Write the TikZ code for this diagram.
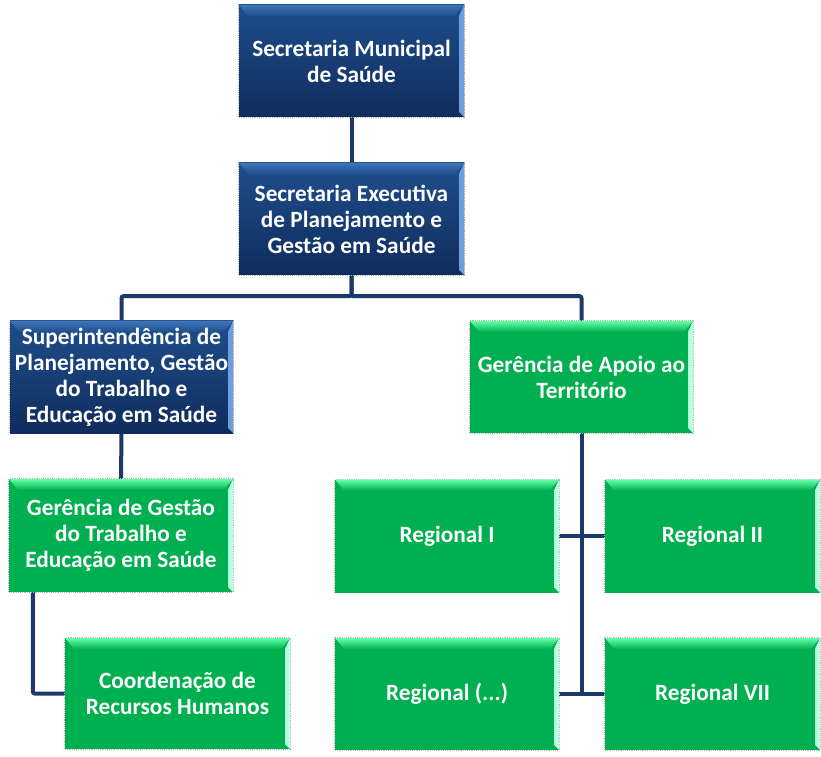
\documentclass[tikz,border=0pt]{standalone}
\usepackage{fontspec}
\setmainfont{Carlito}
\usetikzlibrary{backgrounds}
\definecolor{navy}{HTML}{1B3A6B}
\definecolor{bluetop}{HTML}{1F4E8C}
\definecolor{bluebot}{HTML}{0F2C5C}
\definecolor{bluebev}{HTML}{3E74B8}
\definecolor{blueedge}{HTML}{6E9FDC}
\definecolor{boxgreen}{HTML}{00B050}
\definecolor{greenbev}{HTML}{66FFA6}
\definecolor{greenedge}{HTML}{B8FFE0}
\newcommand\bevelfx[3]{%
  \path (path picture bounding box.north west) coordinate (bnw)
        (path picture bounding box.south east) coordinate (bse);
  \shade[top color=#1, bottom color=#3] (bnw) -- (bnw -| bse) -- ([shift={(-9pt,-11pt)}]bnw -| bse) -- ([shift={(9pt,-11pt)}]bnw) -- cycle;
  \fill[#2] (bnw -| bse) -- (bse) -- ([shift={(-5pt,5pt)}]bse) -- ([shift={(-5pt,-11pt)}]bnw -| bse) -- cycle;
}
\tikzset{
  orgbox/.style={rectangle, inner sep=1pt, align=center, text=white,
    font=\fontsize{23.3}{26}\selectfont\bfseries,
    preaction={draw=gray!55, densely dotted, line width=1.2pt}},
  bluebox/.style={orgbox, top color=bluetop, bottom color=bluebot,
    path picture={\bevelfx{bluebev}{blueedge}{bluetop}}},
  greenbox/.style={orgbox, fill=boxgreen,
    path picture={\bevelfx{greenbev}{greenedge}{boxgreen}}},
  sz/.style n args={2}{minimum width=#1pt, minimum height=#2pt},
  link/.style={draw=navy, line width=4pt, rounded corners=2pt}
}
\begin{document}
\begin{tikzpicture}[x=1pt,y=1pt]
\useasboundingbox (0,0) rectangle (821,756);
\node[bluebox, sz={225}{112}] (n1) at (351.5,695) {Secretaria Municipal\\de Saúde};
\node[bluebox, sz={225}{112}] (n2) at (351.5,537) {Secretaria Executiva\\de Planejamento e\\Gestão em Saúde};
\node[bluebox, sz={223}{112}] (n3) at (121.5,379) {Superintendência de\\Planejamento, Gestão\\do Trabalho e\\Educação em Saúde};
\node[greenbox, sz={223}{112}] (n4) at (581.5,379) {Gerência de Apoio ao\\Território};
\node[greenbox, sz={224}{113}] (n5) at (121,220.5) {Gerência de Gestão\\do Trabalho e\\Educação em Saúde};
\node[greenbox, sz={224}{113}] (n6) at (447,220) {Regional I};
\node[greenbox, sz={215}{113}] (n7) at (712.5,220) {Regional II};
\node[greenbox, sz={225}{111}] (n8) at (177.5,62.5) {Coordenação de\\Recursos Humanos};
\node[greenbox, sz={224}{112}] (n9) at (447,62) {Regional (...)};
\node[greenbox, sz={215}{112}] (n10) at (712.5,62) {Regional VII};
\begin{scope}[on background layer]
\draw[link] (n1.south) -- (n2.north);
\draw[link] (n2.south) -- ++(0,-21) -| (n3.north);
\draw[link] (n2.south) -- ++(0,-21) -| (n4.north);
\draw[link] (n3.south) -- (n5.north);
\draw[link] ([xshift=24pt]n5.south west) |- (n8.west);
\draw[link] (n4.south) -- (n4.south |- n9.east);
\draw[link] (n6.east) -- (n7.west);
\draw[link] (n9.east) -- (n10.west);
\end{scope}
\end{tikzpicture}
\end{document}
